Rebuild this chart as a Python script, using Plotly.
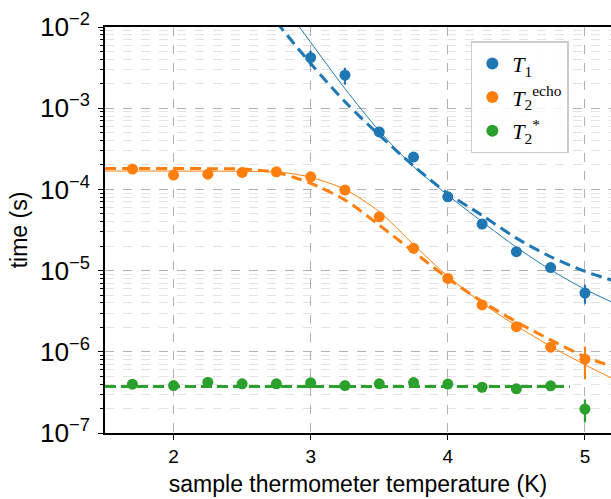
import plotly.graph_objects as go

# ---- data ----
temp_T1 = [3.0, 3.25, 3.5, 3.75, 4.0, 4.25, 4.5, 4.75, 5.0]
T1 = [4.2e-3, 2.55e-3, 5.1e-4, 2.5e-4, 8.1e-5, 3.75e-5, 1.71e-5, 1.09e-5, 5.3e-6]
T1_err = [0.9e-3, 0.6e-3, 0.4e-4, 0.15e-4, 0.5e-5, 0.2e-5, 0.1e-5, 0.06e-5, 1.4e-6]

temp_T2 = [1.7, 2.0, 2.25, 2.5, 2.75, 3.0, 3.25, 3.5, 3.75, 4.0, 4.25, 4.5, 4.75, 5.0]
T2echo = [1.78e-4, 1.50e-4, 1.54e-4, 1.62e-4, 1.65e-4, 1.43e-4, 9.8e-5, 4.6e-5,
          1.88e-5, 8.0e-6, 3.78e-6, 2.04e-6, 1.14e-6, 8.1e-7]
T2echo_err = [0.08e-4, 0.08e-4, 0.08e-4, 0.08e-4, 0.08e-4, 0.08e-4, 0.5e-5, 0.2e-5,
              0.1e-5, 0.4e-6, 0.2e-6, 0.1e-6, 0.06e-6, 3.5e-7]
T2star = [3.99e-7, 3.84e-7, 4.23e-7, 4.03e-7, 4.03e-7, 4.15e-7, 3.84e-7, 4.03e-7,
          4.18e-7, 4.0e-7, 3.66e-7, 3.5e-7, 3.81e-7, 1.97e-7]
T2star_err = [0.2e-7] * 13 + [0.62e-7]

# fit curves (solid) and model curves (dashed)
fitT1_temp = [2.9, 3.0, 3.25, 3.5, 3.75, 4.0, 4.25, 4.5, 4.75, 5.0, 5.2]
fitT1 = [1.10e-2, 6.46e-3, 1.74e-3, 5.25e-4, 1.91e-4, 8.51e-5, 4.0e-5, 1.94e-5,
         1.02e-5, 5.89e-6, 4.07e-6]
modT1_temp = [2.75, 3.0, 3.25, 3.5, 3.75, 4.0, 4.25, 4.5, 4.75, 5.0, 5.2]
modT1 = [1.15e-2, 3.55e-3, 1.20e-3, 4.68e-4, 1.95e-4, 8.91e-5, 4.79e-5, 2.51e-5,
         1.48e-5, 9.77e-6, 7.59e-6]

fitT2_temp = [1.5, 2.0, 2.5, 2.75, 2.875, 3.0, 3.25, 3.5, 3.75, 4.0, 4.25, 4.5, 4.75, 5.0, 5.2]
fitT2 = [1.68e-4, 1.68e-4, 1.67e-4, 1.64e-4, 1.55e-4, 1.41e-4, 1.0e-4, 5.31e-5, 2.09e-5,
         8.51e-6, 3.98e-6, 2.09e-6, 1.17e-6, 6.92e-7, 4.68e-7]
modT2_temp = [1.5, 2.0, 2.25, 2.5, 2.75, 2.875, 3.0, 3.25, 3.5, 3.75, 4.0, 4.25, 4.5,
              4.75, 5.0, 5.2]
modT2 = [1.81e-4, 1.81e-4, 1.80e-4, 1.78e-4, 1.62e-4, 1.41e-4, 1.19e-4, 7.41e-5, 3.63e-5,
         1.71e-5, 8.04e-6, 4.17e-6, 2.34e-6, 1.40e-6, 8.7e-7, 6.6e-7]

modT2star_temp = [1.5, 4.89]
modT2star = [3.73e-7, 3.73e-7]

x_ticks = [2, 3, 4, 5]

BLUE, ORANGE, GREEN = "#1f77b4", "#ff7f0e", "#2ca02c"

fig = go.Figure()


def line(x, y, color, width, dash=None):
    fig.add_trace(go.Scatter(x=x, y=y, mode="lines", showlegend=False,
                             line=dict(color=color, width=width, dash=dash, shape="spline",
                                       smoothing=0.8),
                             hoverinfo="skip"))


line(fitT1_temp, fitT1, BLUE, 1)
line(modT1_temp, modT1, BLUE, 3, "11px,6px")
line(fitT2_temp, fitT2, ORANGE, 1)
line(modT2_temp, modT2, ORANGE, 3, "11px,6px")
line(modT2star_temp, modT2star, GREEN, 3, "11px,5px")


def pts(x, y, err, color, name, group):
    fig.add_trace(go.Scatter(x=x, y=y, mode="markers", name=name, legendgroup=group,
                             marker=dict(color=color, size=11),
                             error_y=dict(type="data", array=err, color=color,
                                          thickness=2.2, width=0)))


pts(temp_T1, T1, T1_err, BLUE, "<i>T</i><sub>1</sub>", "a")
pts(temp_T2, T2echo, T2echo_err, ORANGE, "<i>T</i><sub>2</sub><sup>echo</sup>", "b")
pts(temp_T2, T2star, T2star_err, GREEN, "<i>T</i><sub>2</sub><sup>*</sup>", "c")

fig.update_layout(
    width=611, height=499,
    margin=dict(l=105, r=0, t=27, b=66),
    paper_bgcolor="white", plot_bgcolor="white",
    font=dict(family="Liberation Sans, Arial, sans-serif", size=19, color="black"),
    legend=dict(x=0.723, y=0.965, xanchor="left", yanchor="top",
                bgcolor="rgba(255,255,255,0.85)", bordercolor="#cccccc", borderwidth=1.5,
                font=dict(family="Liberation Serif, serif", size=22),
                itemsizing="constant", traceorder="grouped", tracegroupgap=2),
)

fig.update_xaxes(
    range=[1.5, 5.19], tickvals=x_ticks, ticktext=[str(t) for t in x_ticks],
    tickfont=dict(size=19),
    showline=True, linecolor="black", linewidth=1.5, mirror=True,
    ticks="outside", ticklen=5, tickwidth=1.2, tickcolor="black",
    showgrid=True, gridcolor="#b0b0b0", griddash="dash", gridwidth=1,
    zeroline=False,
    title=dict(text="sample thermometer temperature (K)", standoff=10),
)
fig.update_yaxes(
    type="log", range=[-7, -2], dtick=1, exponentformat="power",
    tickfont=dict(size=21), ticklabelstandoff=4,
    showline=True, linecolor="black", linewidth=1.5,
    ticks="outside", ticklen=5, tickwidth=1.2, tickcolor="black",
    showgrid=True, gridcolor="#b0b0b0", griddash="dash", gridwidth=1,
    minor=dict(ticks="outside", ticklen=3, tickwidth=1, tickcolor="black",
               showgrid=True, gridcolor="#e3e3e3", griddash="dash", gridwidth=1),
    zeroline=False,
    title=dict(text="time (s)", standoff=6),
)

fig.write_html("out.html")
